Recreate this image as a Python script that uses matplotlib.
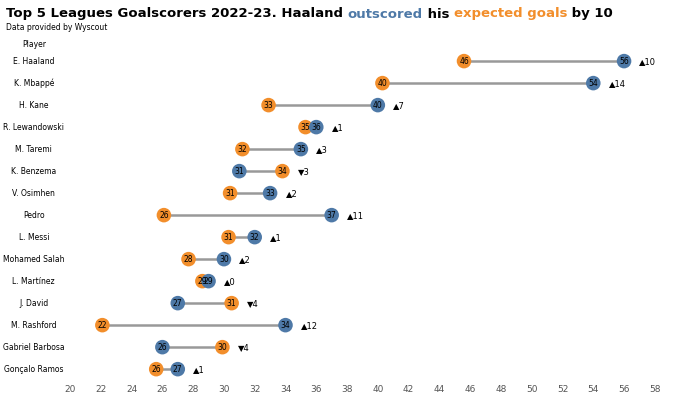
import matplotlib.pyplot as plt

players = ["E. Haaland", "K. Mbappé", "H. Kane", "R. Lewandowski", "M. Taremi",
           "K. Benzema", "V. Osimhen", "Pedro", "L. Messi", "Mohamed Salah",
           "L. Martínez", "J. David", "M. Rashford", "Gabriel Barbosa", "Gonçalo Ramos"]
goals = [56, 54, 40, 36, 35, 31, 33, 37, 32, 30, 29, 27, 34, 26, 27]
xg = [45.6, 40.3, 32.9, 35.3, 31.2, 33.8, 30.4, 26.1, 30.3, 27.7, 28.6, 30.5, 22.1, 29.9, 25.6]
xg_label = [46, 40, 33, 35, 32, 34, 31, 26, 31, 28, 29, 31, 22, 30, 26]

blue = "#4e79a7"
orange = "#f28e2b"

fig = plt.figure(figsize=(6.8, 4.04), dpi=100)
ax = fig.add_axes([0.103, 0.059, 0.86, 0.854])

for i, (g, x, xl) in enumerate(zip(goals, xg, xg_label)):
    ax.plot([x, g], [i, i], color="#999999", lw=1.8, zorder=1)
    ax.scatter(x, i, s=110, color=orange, zorder=2, edgecolor="none")
    ax.scatter(g, i, s=110, color=blue, zorder=3, edgecolor="none")
    ax.text(x, i, f"{xl}", ha="center", va="center", fontsize=5.5, zorder=4)
    ax.text(g, i, f"{g}", ha="center", va="center", fontsize=5.5, zorder=4)
    d = g - xl
    sym = "▼" if d < 0 else "▲"
    ax.text(max(g, x) + 1.0, i, f"{sym}{abs(d)}", ha="left", va="center", fontsize=6)

ax.set_xlim(20, 58)
ax.set_ylim(14.5, -1.18)
ax.set_xticks(range(20, 59, 2))
ax.set_yticks([])
ax.tick_params(axis="x", labelsize=6.5, length=0, colors="#555555")
for i, p in enumerate(players):
    ax.text(-0.062, i, p, transform=ax.get_yaxis_transform(), ha="center", va="center", fontsize=5.5)
ax.text(-0.062, -0.77, "Player", transform=ax.get_yaxis_transform(), ha="center", va="center", fontsize=5.5)
for s in ax.spines.values():
    s.set_visible(False)

# title in pieces, coloured words
parts = [("Top 5 Leagues Goalscorers 2022-23. Haaland ", "black"), ("outscored", blue),
         (" his ", "black"), ("expected goals", orange), (" by 10", "black")]
fig.canvas.draw()
r = fig.canvas.get_renderer()
xpos = 6 / 680
for txt, c in parts:
    t = fig.text(xpos, 1 - 14 / 404, txt, fontsize=9.5, fontweight="bold", color=c, ha="left", va="center")
    bb = t.get_window_extent(renderer=r)
    xpos += bb.width / fig.bbox.width
fig.text(6 / 680, 1 - 27 / 404, "Data provided by Wyscout", fontsize=5.5, ha="left", va="center")

fig.savefig("out.png")
